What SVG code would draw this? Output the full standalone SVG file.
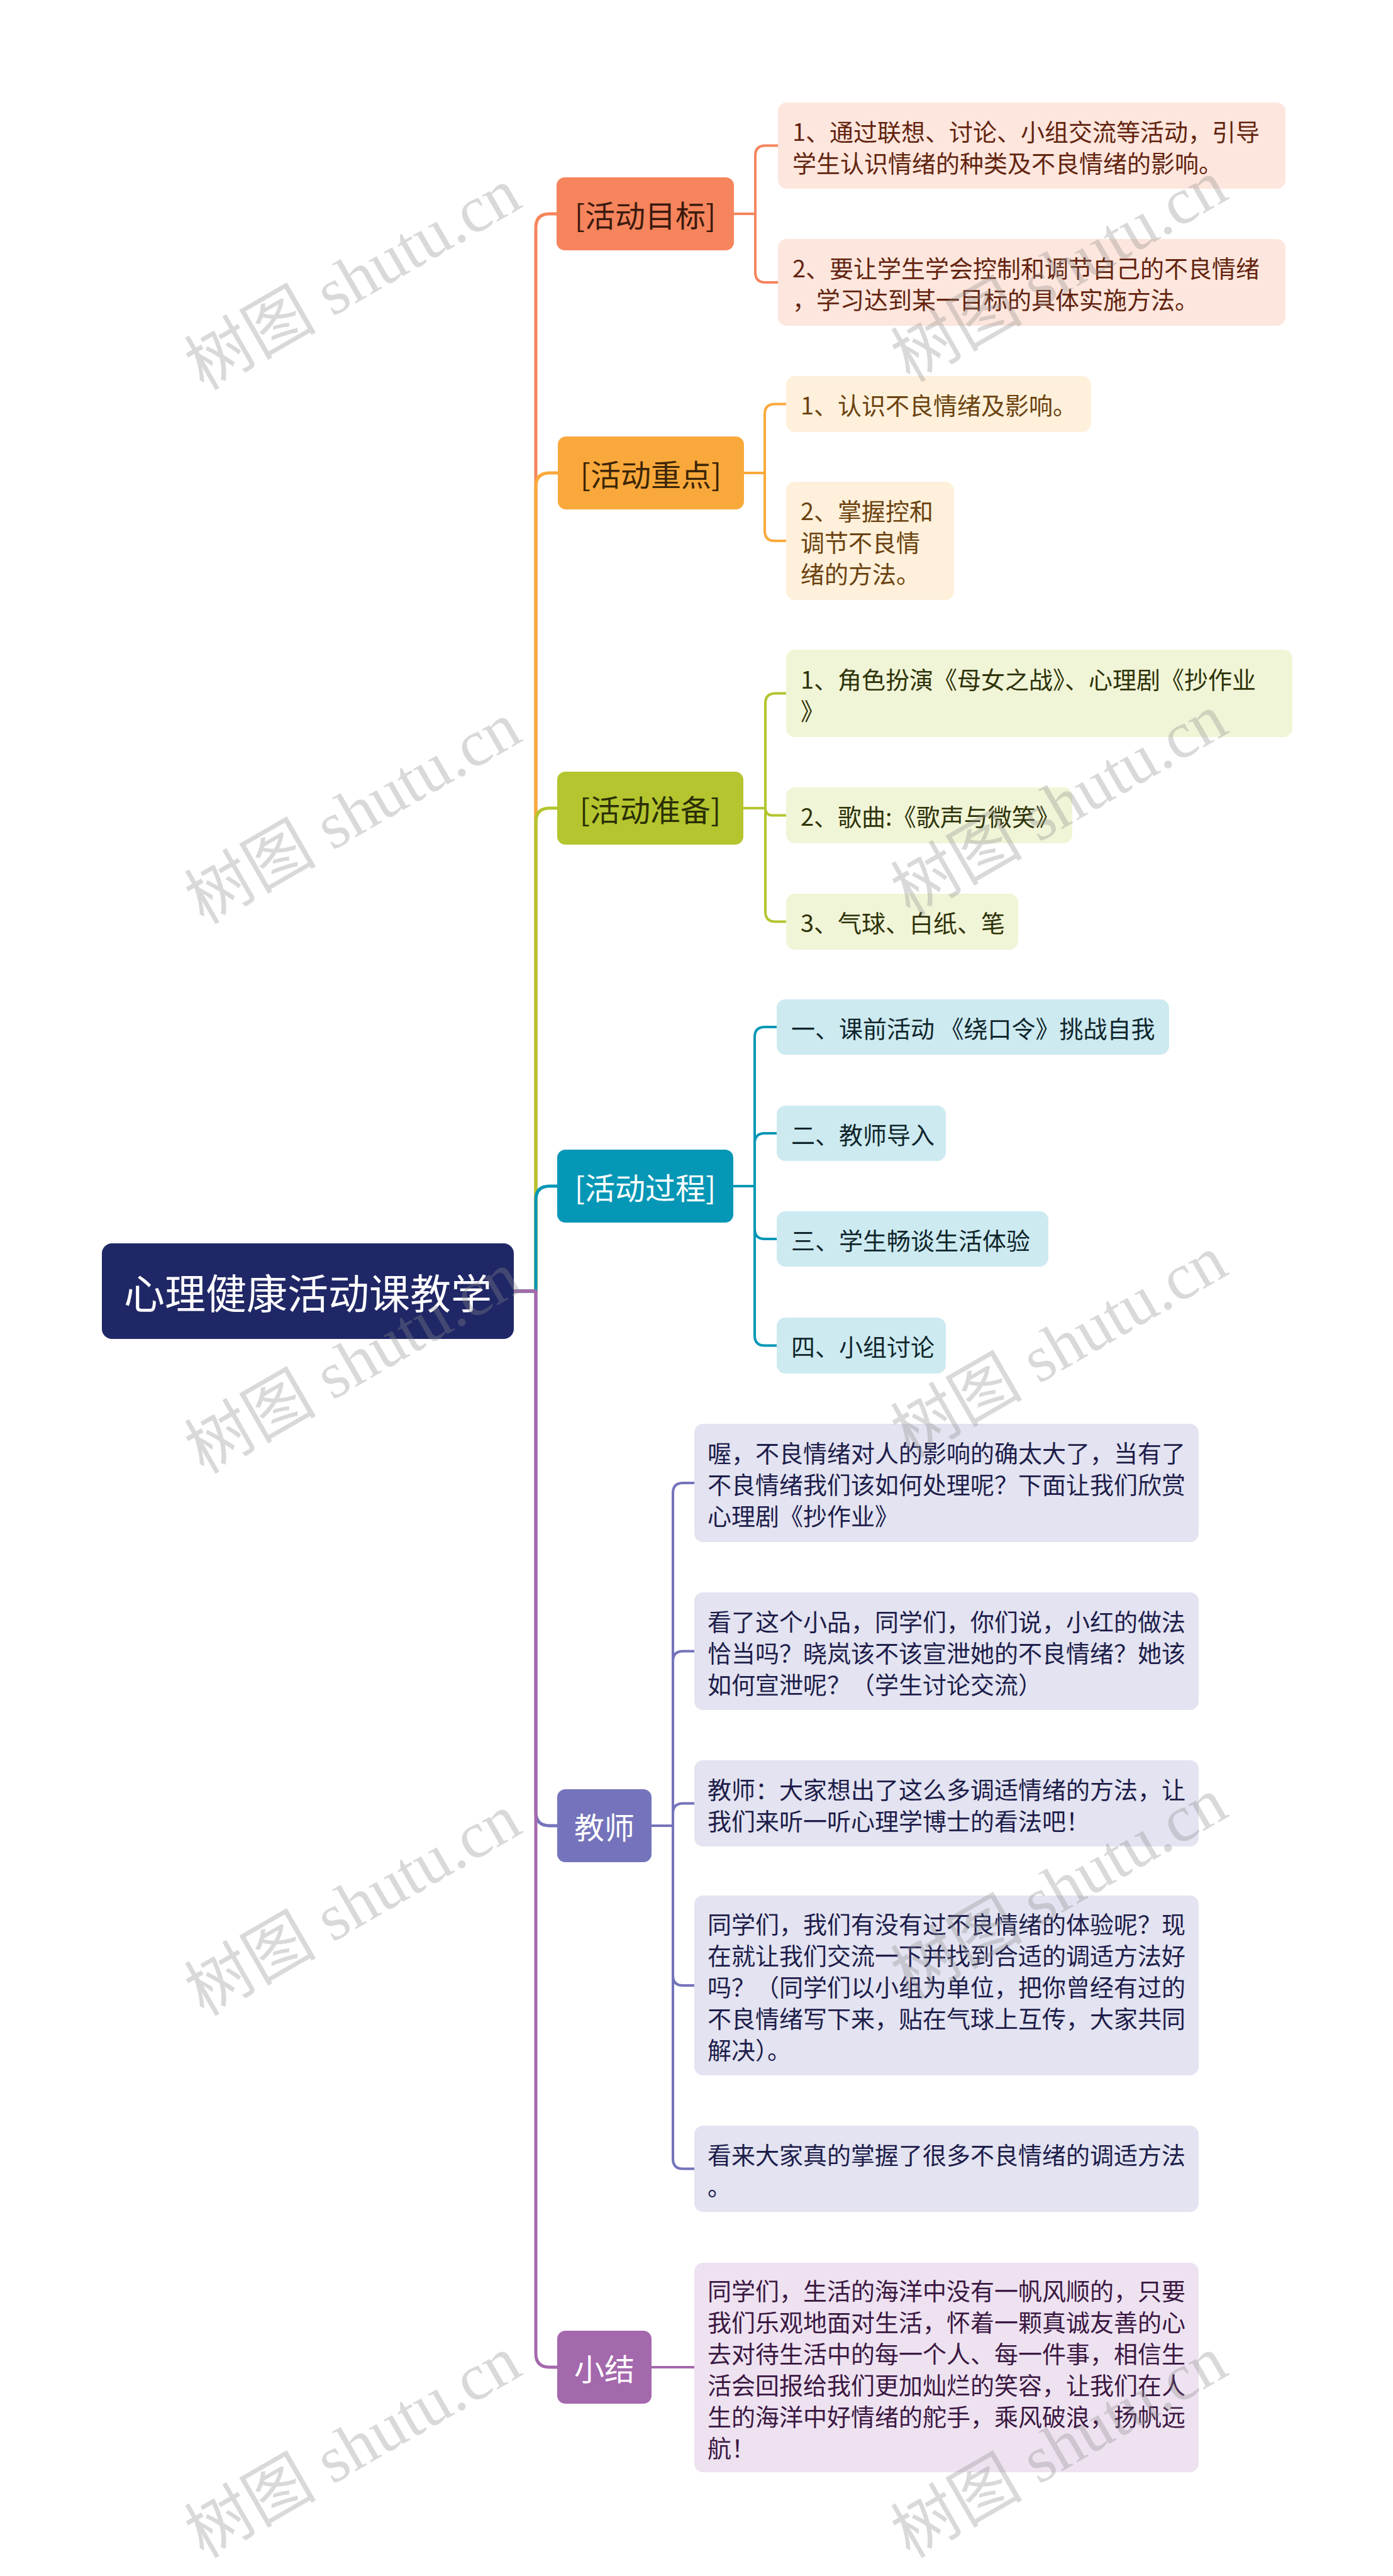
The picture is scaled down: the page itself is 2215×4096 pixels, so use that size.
<svg xmlns="http://www.w3.org/2000/svg" width="2215" height="4096" viewBox="0 0 2215 4096">
<style>
.t{font-family:"Noto Sans CJK SC","Liberation Sans",sans-serif;dominant-baseline:central}
.leaf{font-size:38px}
.br{font-size:48px;text-anchor:middle}
.root{font-size:65px;fill:#fff;text-anchor:middle}
.c{fill:none;stroke-linecap:round;stroke-linejoin:round}
.tr{stroke-width:5}
.l2{stroke-width:4}
.wm{font-family:"Liberation Serif","Noto Sans CJK SC",serif;font-size:105px;fill:#8c8c8c;fill-opacity:.33;text-anchor:middle;dominant-baseline:central}
</style>
<rect width="2215" height="4096" fill="#fff"/>
<g id="connectors">
 <path class="c tr" stroke="#F6845C" d="M817,2053 H852 V362 Q852,340 874,340 H886"/>
 <path class="c tr" stroke="#F9A93B" d="M817,2053 H852 V774 Q852,752 874,752 H887"/>
 <path class="c tr" stroke="#B4C52F" d="M817,2053 H852 V1307 Q852,1285 874,1285 H886"/>
 <path class="c tr" stroke="#0797B6" d="M817,2053 H852 V1908 Q852,1886 874,1886 H886"/>
 <path class="c tr" stroke="#7473BB" d="M817,2053 H852 V2881 Q852,2903 874,2903 H886"/>
 <path class="c tr" stroke="#A468AC" d="M817,2053 H852 V3742 Q852,3764 874,3764 H886"/>
 <g stroke="#F6845C" class="c l2">
  <path d="M1167,340 H1201 V247.5 Q1201,231.5 1217,231.5 H1237"/>
  <path d="M1167,340 H1201 V433 Q1201,449 1217,449 H1237"/>
 </g>
 <g stroke="#F9A93B" class="c l2">
  <path d="M1183,752 H1216 V658.5 Q1216,642.5 1232,642.5 H1250"/>
  <path d="M1183,752 H1216 V844 Q1216,860 1232,860 H1250"/>
 </g>
 <g stroke="#B4C52F" class="c l2">
  <path d="M1182,1285 H1217 V1118.5 Q1217,1102.5 1233,1102.5 H1250"/>
  <path d="M1182,1285 H1217 Q1217,1296.5 1228.5,1296.5 H1250"/>
  <path d="M1182,1285 H1217 V1449.5 Q1217,1465.5 1233,1465.5 H1250"/>
 </g>
 <g stroke="#0797B6" class="c l2">
  <path d="M1166,1886 H1200 V1649 Q1200,1633 1216,1633 H1235"/>
  <path d="M1166,1886 H1200 V1818 Q1200,1802 1216,1802 H1235"/>
  <path d="M1166,1886 H1200 V1954 Q1200,1970 1216,1970 H1235"/>
  <path d="M1166,1886 H1200 V2123.5 Q1200,2139.5 1216,2139.5 H1235"/>
 </g>
 <g stroke="#7473BB" class="c l2">
  <path d="M1036,2903 H1070 V2374 Q1070,2358 1086,2358 H1104"/>
  <path d="M1036,2903 H1070 V2641.5 Q1070,2625.5 1086,2625.5 H1104"/>
  <path d="M1036,2903 H1070 V2883.5 Q1070,2867.5 1086,2867.5 H1104"/>
  <path d="M1036,2903 H1070 V3141 Q1070,3157 1086,3157 H1104"/>
  <path d="M1036,2903 H1070 V3432.5 Q1070,3448.5 1086,3448.5 H1104"/>
 </g>
 <path class="c l2" stroke="#A468AC" d="M1036,3764 H1104"/>
</g>

<g id="root">
 <rect x="162" y="1977" width="655" height="152" rx="16" fill="#202766"/>
 <text class="t root" x="489.5" y="2053">心理健康活动课教学</text>
</g>

<g id="b1">
 <rect x="885" y="282" width="282" height="116" rx="13" fill="#F6845C"/>
 <text class="t br" x="1026" y="340" fill="#3B1A0E">[活动目标]</text>
</g>
<g id="b1c1">
 <rect x="1237" y="163" width="807" height="137" rx="14" fill="#FDE6DD"/>
 <text class="t leaf" fill="#63240F"><tspan x="1260" y="206.5">1、通过联想、讨论、小组交流等活动，引导</tspan><tspan x="1260" y="256.5">学生认识情绪的种类及不良情绪的影响。</tspan></text>
</g>
<g id="b1c2">
 <rect x="1237" y="380" width="807" height="138" rx="14" fill="#FDE6DD"/>
 <text class="t leaf" fill="#63240F"><tspan x="1260" y="424">2、要让学生学会控制和调节自己的不良情绪</tspan><tspan x="1260" y="474">，学习达到某一目标的具体实施方法。</tspan></text>
</g>

<g id="b2">
 <rect x="887" y="694" width="296" height="116" rx="13" fill="#F9A93B"/>
 <text class="t br" x="1035" y="752" fill="#3D2606">[活动重点]</text>
</g>
<g id="b2c1">
 <rect x="1250" y="598" width="485" height="89" rx="14" fill="#FEF0DA"/>
 <text class="t leaf" x="1273" y="642.5" fill="#6B4210">1、认识不良情绪及影响。</text>
</g>
<g id="b2c2">
 <rect x="1250" y="766" width="267" height="188" rx="14" fill="#FEF0DA"/>
 <text class="t leaf" fill="#6B4210"><tspan x="1273" y="810">2、掌握控和</tspan><tspan x="1273" y="860">调节不良情</tspan><tspan x="1273" y="910">绪的方法。</tspan></text>
</g>

<g id="b3">
 <rect x="886" y="1227" width="296" height="116" rx="13" fill="#B4C52F"/>
 <text class="t br" x="1034" y="1285" fill="#2B2F05">[活动准备]</text>
</g>
<g id="b3c1">
 <rect x="1250" y="1033" width="805" height="139" rx="14" fill="#F1F5D7"/>
 <text class="t leaf" fill="#2E3309"><tspan x="1273" y="1077.5">1、角色扮演《母女之战》、心理剧《抄作业</tspan><tspan x="1273" y="1127.5">》</tspan></text>
</g>
<g id="b3c2">
 <rect x="1250" y="1252" width="455" height="89" rx="14" fill="#F1F5D7"/>
 <text class="t leaf" x="1273" y="1296.5" fill="#2E3309">2、歌曲:《歌声与微笑》</text>
</g>
<g id="b3c3">
 <rect x="1250" y="1421" width="369" height="89" rx="14" fill="#F1F5D7"/>
 <text class="t leaf" x="1273" y="1465.5" fill="#2E3309">3、气球、白纸、笔</text>
</g>

<g id="b4">
 <rect x="886" y="1828" width="280" height="116" rx="13" fill="#0797B6"/>
 <text class="t br" x="1026" y="1886" fill="#fff">[活动过程]</text>
</g>
<g id="b4c1">
 <rect x="1235" y="1589" width="624" height="88" rx="14" fill="#CDEAF1"/>
 <text class="t leaf" x="1258" y="1633" fill="#10262C">一、课前活动 《绕口令》挑战自我</text>
</g>
<g id="b4c2">
 <rect x="1235" y="1758" width="269" height="88" rx="14" fill="#CDEAF1"/>
 <text class="t leaf" x="1258" y="1802" fill="#10262C">二、教师导入</text>
</g>
<g id="b4c3">
 <rect x="1235" y="1926" width="432" height="88" rx="14" fill="#CDEAF1"/>
 <text class="t leaf" x="1258" y="1970" fill="#10262C">三、学生畅谈生活体验</text>
</g>
<g id="b4c4">
 <rect x="1235" y="2095" width="269" height="89" rx="14" fill="#CDEAF1"/>
 <text class="t leaf" x="1258" y="2139.5" fill="#10262C">四、小组讨论</text>
</g>

<g id="b5">
 <rect x="886" y="2845" width="150" height="116" rx="13" fill="#7473BB"/>
 <text class="t br" x="961" y="2903" fill="#fff">教师</text>
</g>
<g id="b5c1">
 <rect x="1104" y="2264" width="802" height="188" rx="14" fill="#E3E3F1"/>
 <text class="t leaf" fill="#1D1D4A"><tspan x="1125" y="2308">喔，不良情绪对人的影响的确太大了，当有了</tspan><tspan x="1125" y="2358">不良情绪我们该如何处理呢？下面让我们欣赏</tspan><tspan x="1125" y="2408">心理剧《抄作业》</tspan></text>
</g>
<g id="b5c2">
 <rect x="1104" y="2532" width="802" height="187" rx="14" fill="#E3E3F1"/>
 <text class="t leaf" fill="#1D1D4A"><tspan x="1125" y="2575.5">看了这个小品，同学们，你们说，小红的做法</tspan><tspan x="1125" y="2625.5">恰当吗？晓岚该不该宣泄她的不良情绪？她该</tspan><tspan x="1125" y="2675.5">如何宣泄呢？（学生讨论交流）</tspan></text>
</g>
<g id="b5c3">
 <rect x="1104" y="2799" width="802" height="137" rx="14" fill="#E3E3F1"/>
 <text class="t leaf" fill="#1D1D4A"><tspan x="1125" y="2842.5">教师：大家想出了这么多调适情绪的方法，让</tspan><tspan x="1125" y="2892.5">我们来听一听心理学博士的看法吧！</tspan></text>
</g>
<g id="b5c4">
 <rect x="1104" y="3014" width="802" height="286" rx="14" fill="#E3E3F1"/>
 <text class="t leaf" fill="#1D1D4A"><tspan x="1125" y="3057">同学们，我们有没有过不良情绪的体验呢？现</tspan><tspan x="1125" y="3107">在就让我们交流一下并找到合适的调适方法好</tspan><tspan x="1125" y="3157">吗？（同学们以小组为单位，把你曾经有过的</tspan><tspan x="1125" y="3207">不良情绪写下来，贴在气球上互传，大家共同</tspan><tspan x="1125" y="3257">解决）。</tspan></text>
</g>
<g id="b5c5">
 <rect x="1104" y="3380" width="802" height="137" rx="14" fill="#E3E3F1"/>
 <text class="t leaf" fill="#1D1D4A"><tspan x="1125" y="3423.5">看来大家真的掌握了很多不良情绪的调适方法</tspan><tspan x="1125" y="3473.5">。</tspan></text>
</g>

<g id="b6">
 <rect x="886" y="3706" width="150" height="116" rx="13" fill="#A468AC"/>
 <text class="t br" x="961" y="3764" fill="#fff">小结</text>
</g>
<g id="b6c1">
 <rect x="1104" y="3598" width="802" height="333" rx="14" fill="#EEE2F1"/>
 <text class="t leaf" fill="#3B1842"><tspan x="1125" y="3639.5">同学们，生活的海洋中没有一帆风顺的，只要</tspan><tspan x="1125" y="3689.5">我们乐观地面对生活，怀着一颗真诚友善的心</tspan><tspan x="1125" y="3739.5">去对待生活中的每一个人、每一件事，相信生</tspan><tspan x="1125" y="3789.5">活会回报给我们更加灿烂的笑容，让我们在人</tspan><tspan x="1125" y="3839.5">生的海洋中好情绪的舵手，乘风破浪，扬帆远</tspan><tspan x="1125" y="3889.5">航！</tspan></text>
</g>

<g id="watermarks">
 <text class="wm" x="561" y="444" transform="rotate(-30 561 444)">树图 shutu.cn</text>
 <text class="wm" x="1684" y="431" transform="rotate(-30 1684 431)">树图 shutu.cn</text>
 <text class="wm" x="561" y="1293" transform="rotate(-30 561 1293)">树图 shutu.cn</text>
 <text class="wm" x="1684" y="1280" transform="rotate(-30 1684 1280)">树图 shutu.cn</text>
 <text class="wm" x="561" y="2167" transform="rotate(-30 561 2167)">树图 shutu.cn</text>
 <text class="wm" x="1684" y="2141" transform="rotate(-30 1684 2141)">树图 shutu.cn</text>
 <text class="wm" x="561" y="3029" transform="rotate(-30 561 3029)">树图 shutu.cn</text>
 <text class="wm" x="1684" y="3003" transform="rotate(-30 1684 3003)">树图 shutu.cn</text>
 <text class="wm" x="561" y="3891" transform="rotate(-30 561 3891)">树图 shutu.cn</text>
 <text class="wm" x="1684" y="3891" transform="rotate(-30 1684 3891)">树图 shutu.cn</text>
</g>
</svg>
